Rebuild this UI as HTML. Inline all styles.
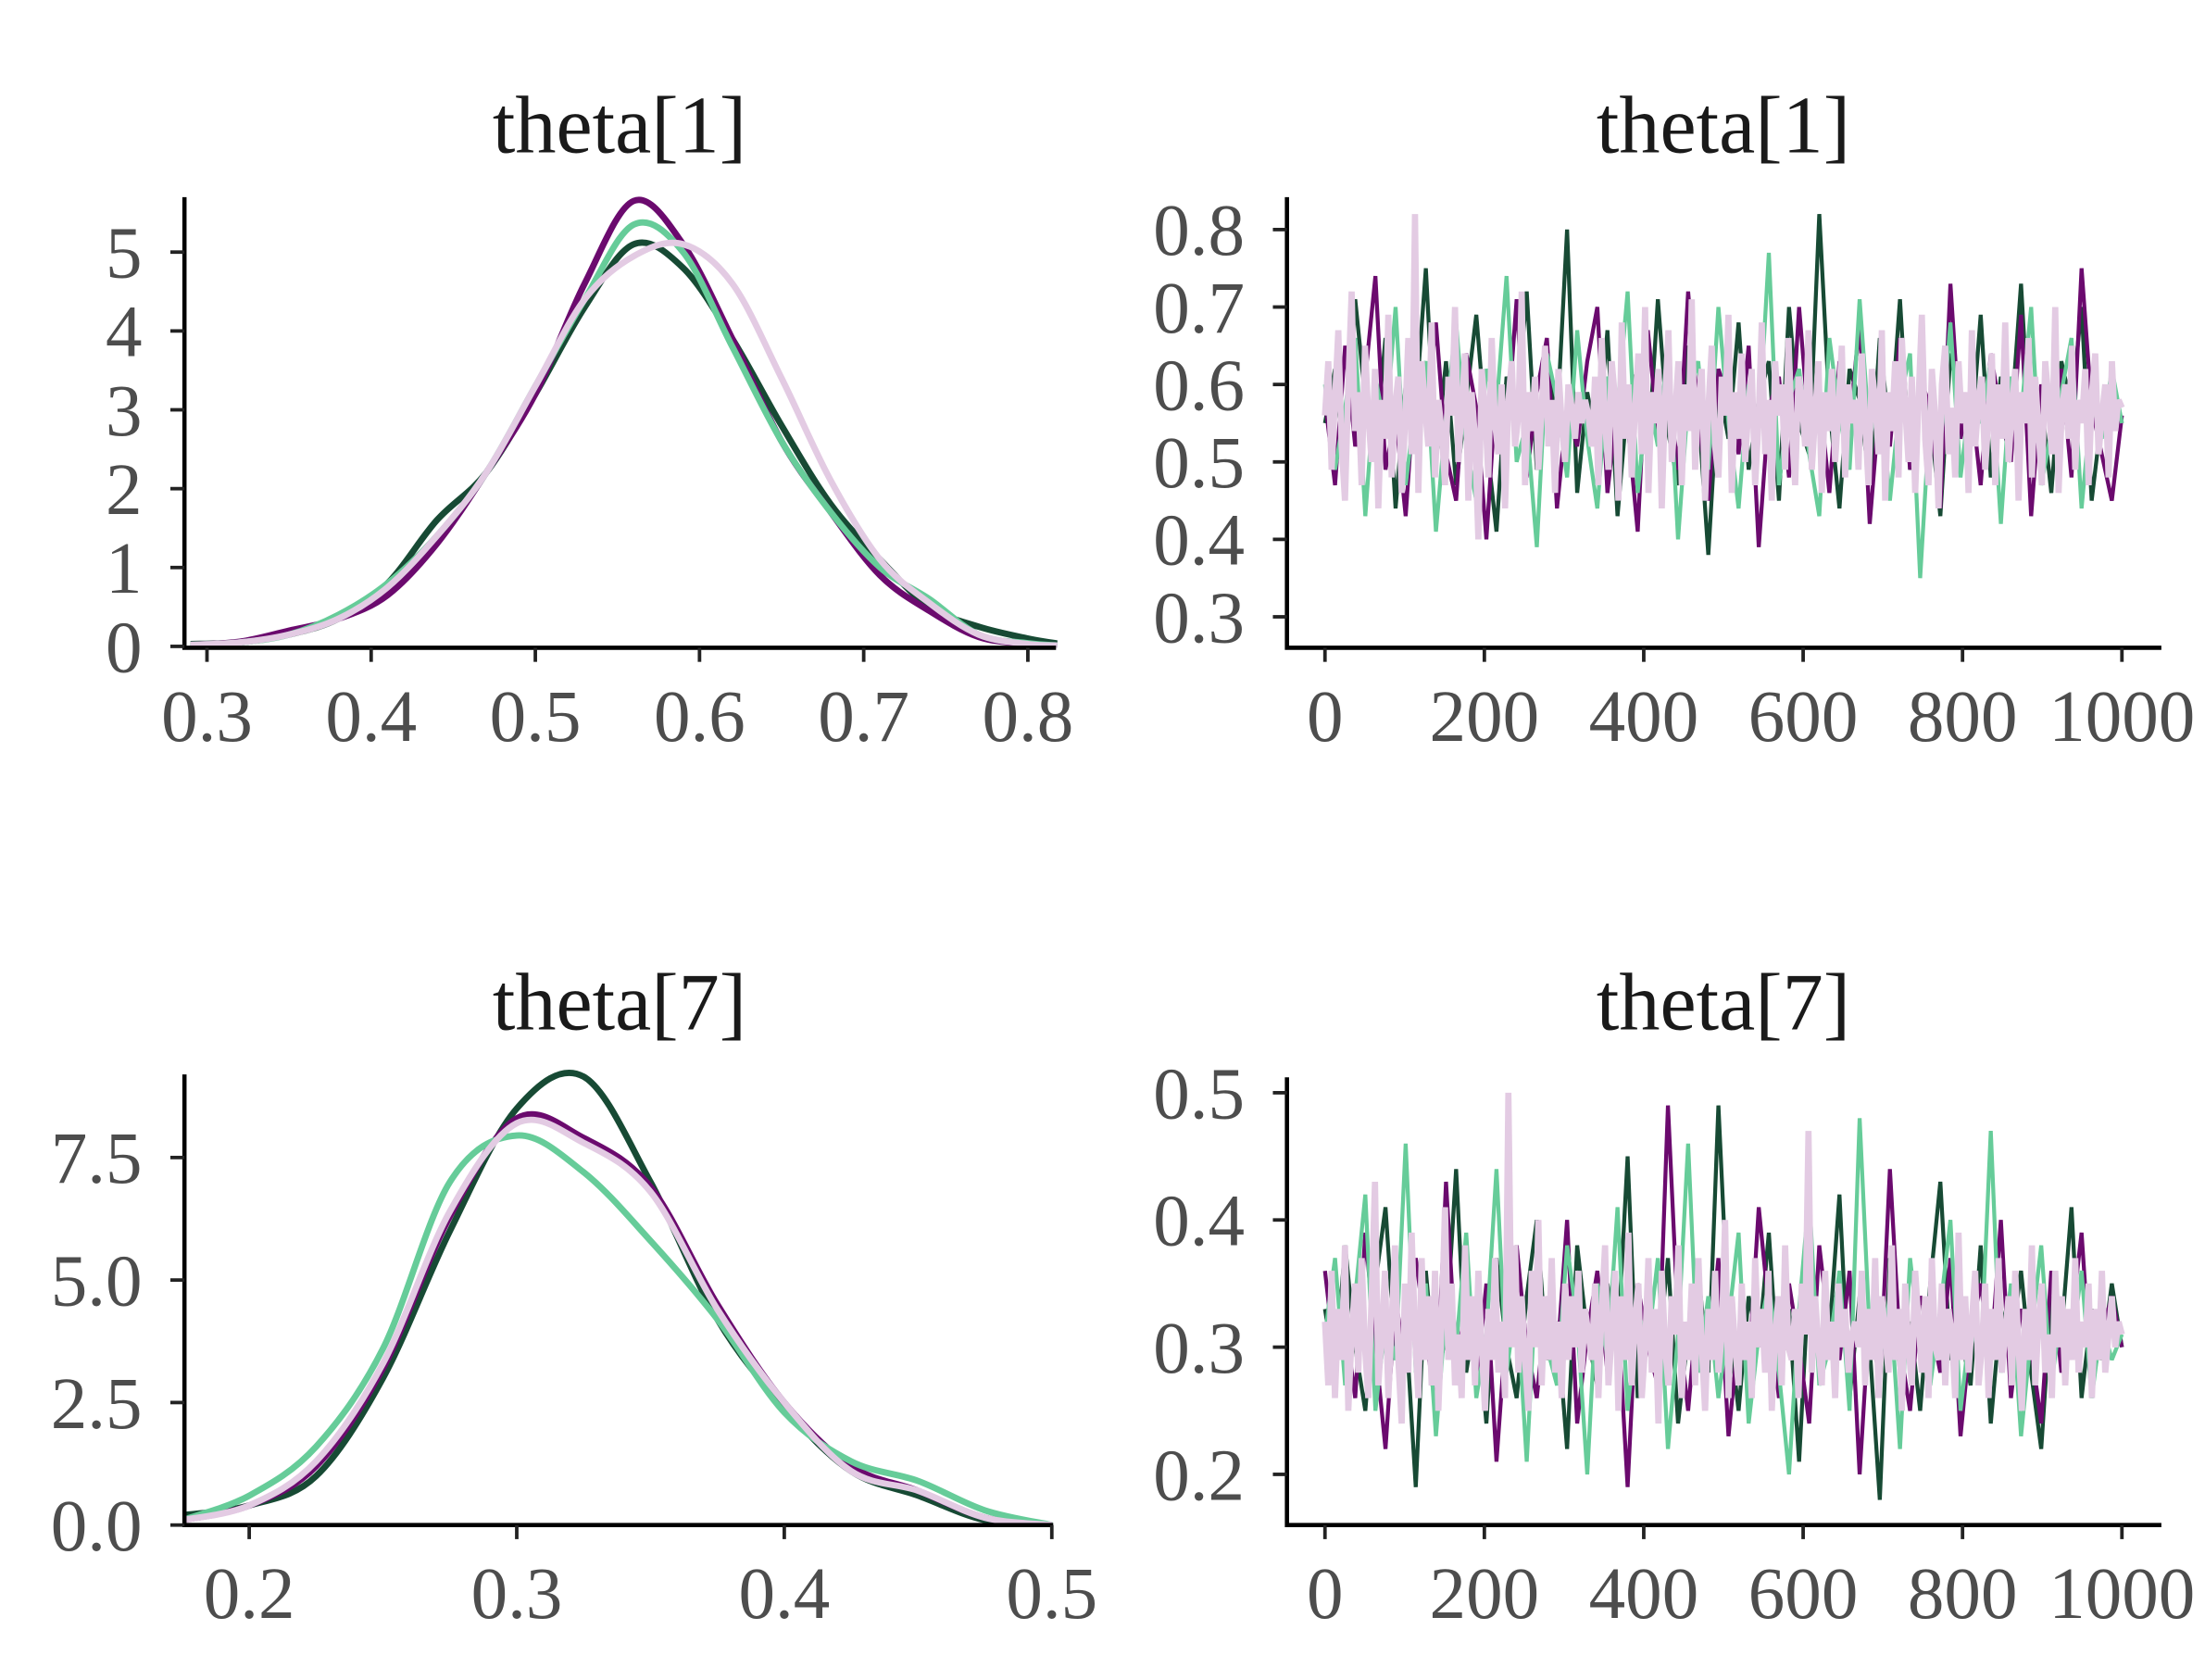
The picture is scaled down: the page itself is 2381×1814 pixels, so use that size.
<!DOCTYPE html>
<html><head><meta charset="utf-8"><style>
html,body{margin:0;padding:0;background:#fff;}
svg{display:block;}
text{font-family:"Liberation Serif","DejaVu Serif",serif;}
</style></head><body>
<svg id="chart" width="2381" height="1814" viewBox="0 0 1566 1193" xmlns="http://www.w3.org/2000/svg"></svg>
<script>
const chainColors = ["#174a34","#6b0a6e","#66cc99","#e3cbe3"];
const chainNames = ["chain-1","chain-2","chain-3","chain-4"];
// theta[1] density
const d1x = [0.29,0.32,0.35,0.38,0.41,0.44,0.47,0.50,0.53,0.56,0.59,0.62,0.65,0.68,0.71,0.74,0.77,0.80,0.82];
const d1c1 = [0.03,0.05,0.15,0.35,0.8,1.6,2.2,3.2,4.3,5.1,4.8,3.9,2.8,1.8,1.1,0.5,0.25,0.1,0.03];
const d1c2 = [0.02,0.06,0.2,0.35,0.65,1.3,2.2,3.2,4.6,5.65,5.1,3.9,2.6,1.7,0.9,0.45,0.12,0.03,0.01];
const d1c3 = [0.02,0.05,0.15,0.4,0.8,1.4,2.2,3.3,4.4,5.35,5.0,3.8,2.6,1.7,1.0,0.6,0.15,0.04,0.01];
const d1c4 = [0.02,0.05,0.15,0.35,0.75,1.4,2.2,3.3,4.4,4.95,5.1,4.6,3.4,2.1,1.1,0.55,0.15,0.03,0.01];
const d1xt = [0.3,0.4,0.5,0.6,0.7,0.8];
const d1yt = [0,1,2,3,4,5];
// theta[7] density
const d7x = [0.175,0.2,0.225,0.25,0.275,0.3,0.325,0.35,0.375,0.4,0.425,0.45,0.475,0.5];
const d7c1 = [0.2,0.4,1.0,3.0,6.0,8.5,9.15,7.0,4.2,2.4,1.1,0.6,0.1,0.0];
const d7c2 = [0.1,0.4,1.2,3.2,6.3,8.3,7.9,6.9,4.5,2.5,1.2,0.7,0.15,0.0];
const d7c3 = [0.1,0.6,1.6,3.6,7.0,7.95,7.2,5.8,4.2,2.3,1.3,0.9,0.3,0.0];
const d7c4 = [0.1,0.4,1.3,3.3,6.4,8.2,7.8,6.8,4.4,2.5,1.1,0.7,0.15,0.0];
const d7xt = ["0.2","0.3","0.4","0.5"];
const d7yt = ["0.0","2.5","5.0","7.5"];
// traces (hundredths)
const t1c1 = [55,62,48,71,58,52,66,44,60,57,75,50,63,47,58,69,53,41,61,56,72,49,64,55,80,46,59,52,67,43,58,62,50,71,54,47,65,57,38,60,53,68,49,58,63,45,70,55,51,82,57,44,62,58,47,66,53,71,49,60,56,43,64,57,52,69,48,61,55,73,50,58,46,63,57,70,45,56,60,55];
const t1c2 = [58,47,65,52,61,74,49,56,43,62,55,68,51,45,64,57,40,60,53,71,48,59,66,44,57,52,63,70,46,58,55,41,67,54,60,49,72,56,45,62,58,51,65,39,57,61,48,70,54,59,46,63,55,68,42,58,52,66,49,61,57,44,73,53,59,47,64,56,50,69,43,60,55,62,48,75,57,51,45,56];
const t1c3 = [60,49,57,66,43,61,54,70,47,58,63,41,56,68,52,45,62,57,74,50,55,39,64,58,48,67,53,44,61,57,72,46,59,52,65,40,58,63,49,70,55,44,60,54,77,47,58,62,51,43,66,56,49,71,53,60,45,58,64,35,57,52,68,48,59,55,63,42,61,56,70,47,54,59,66,44,58,53,62,55];
const t1c4 = [56,63,49,58,67,52,45,60,72,54,59,47,65,56,50,62,44,58,53,69,48,57,61,46,55,66,51,82,46,63,57,52,68,48,58,54,47,61,56,70,50,57,64,45,59,53,40,62,57,48,66,55,51,60,44,58,63,52,56,72,47,59,54,61,49,57,65,52,58,46,62,55,50,60,57,53,59,55,58,56,
 52,61,47,66,55,49,63,58,45,68,53,60,48,57,64,51,70,46,59,55,62,44,58,67,50,56,63,47,60,54,71,49,58,62,45,57,65,52,48,61,56,69,46,59,53,64,50,57,62,47,55,68,51,58,45,63,56,60,49,66,54,47,61,58,52,67,49,56,63,46,59,54,62,50,57,65,48,60,55,58,
 49,64,55,47,62,58,51,67,45,59,54,63,48,66,57,50,61,46,58,69,53,47,62,56,44,60,65,51,57,48,63,55,59,46,67,52,58,61,49,56,64,47,60,53,68,50,57,62,45,59,55,66,48,61,54,47,63,58,51,70,46,57,60,53,65,49,58,55,62,47,59,64,51,56,60,48,63,54,58,57];
const t7c1 = [33,28,38,30,25,35,41,29,32,19,36,27,31,44,28,33,24,37,30,26,34,40,29,32,22,38,31,27,35,30,45,26,33,29,37,24,31,36,28,49,32,25,34,30,39,27,33,21,36,29,31,42,26,34,30,18,37,28,32,25,35,43,29,31,27,38,24,33,30,36,28,22,34,31,41,26,33,29,35,30];
const t7c2 = [36,29,32,26,39,30,22,34,28,37,31,25,43,29,33,27,35,21,32,38,30,26,34,29,40,24,31,36,28,33,19,35,30,27,49,32,25,34,29,37,23,31,28,41,33,26,35,30,24,38,31,29,36,20,33,27,44,30,25,34,32,28,37,23,31,35,29,40,26,33,30,24,36,28,32,39,27,31,34,30];
const t7c3 = [31,37,27,34,42,25,32,29,46,28,35,23,33,30,39,26,31,44,28,34,21,36,30,27,38,32,20,35,29,41,25,33,30,37,22,31,46,28,34,26,32,39,24,31,35,28,20,33,42,27,30,36,25,48,31,29,34,22,37,30,27,33,40,25,32,29,47,28,35,23,31,38,27,33,30,36,26,32,29,31];
const t7c4 = [32,27,36,26,33,29,38,25,31,35,28,37,30,26,34,43,27,31,36,26,32,38,29,24,35,28,39,31,26,37,29,34,27,36,25,32,41,29,35,27,31,26,38,29,34,27,36,30,25,33,29,37,28,32,26,50,30,38,28,34,29,25,36,30,40,27,34,29,37,28,32,26,35,29,34,30,36,28,33,31,
 29,35,26,33,38,27,31,36,25,34,29,39,27,32,35,26,30,37,28,33,24,36,30,27,34,31,38,26,32,29,35,27,37,30,25,33,29,36,28,31,40,26,34,30,27,35,29,32,26,37,30,33,28,36,25,31,34,27,38,30,29,33,26,35,31,47,28,34,30,27,36,29,32,26,35,30,33,28,31,32,
 30,36,27,33,29,37,26,34,31,28,38,29,33,25,35,30,27,36,32,28,34,26,37,30,29,35,27,33,31,26,39,29,34,28,32,36,27,30,35,26,33,29,37,28,31,34,27,36,30,25,33,29,38,27,32,35,28,31,26,36,30,34,27,33,29,37,28,32,30,35,26,33,29,36,28,31,34,30,32,31];
const iterTicks = [0,200,400,600,800,1000];
const t1yt = ["0.3","0.4","0.5","0.6","0.7","0.8"];
const t7yt = ["0.2","0.3","0.4","0.5"];

const NS="http://www.w3.org/2000/svg";
const svg=document.getElementById('chart');
function mk(tag,attrs,parent){const e=document.createElementNS(NS,tag);for(const k in attrs)e.setAttribute(k,attrs[k]);(parent||svg).appendChild(e);return e;}
function lin(d0,d1,r0,r1){return v=>r0+(v-d0)*(r1-r0)/(d1-d0);}
function smooth(pts){let d="M"+pts[0][0]+","+pts[0][1];for(let i=0;i<pts.length-1;i++){const p0=pts[Math.max(0,i-1)],p1=pts[i],p2=pts[i+1],p3=pts[Math.min(pts.length-1,i+2)];const c1x=p1[0]+(p2[0]-p0[0])/6,c1y=p1[1]+(p2[1]-p0[1])/6,c2x=p2[0]-(p3[0]-p1[0])/6,c2y=p2[1]-(p3[1]-p1[1])/6;d+=" C"+c1x+","+c1y+" "+c2x+","+c2y+" "+p2[0]+","+p2[1];}return d;}

function axes(g,x0,x1,y0,y1,xt,xs,yt,ys,title,tx,ty){
  const ax=mk('path',{d:`M${x0},${y0} V${y1} H${x1}`,fill:'none',stroke:'#000','stroke-width':3},g);
  
  
  xt.forEach(t=>{const x=xs(+t);
    const tk=mk('line',{x1:x,x2:x,y1:y1,y2:y1+10,stroke:'#222','stroke-width':2.5},g);
    
    
    const tl=mk('text',{x:x,y:y1+66,'text-anchor':'middle','font-size':52,fill:'#4d4d4d'},g);tl.textContent=t;
    
    });
  yt.forEach(t=>{const y=ys(+t);
    const tk=mk('line',{x1:x0-10,x2:x0,y1:y,y2:y,stroke:'#222','stroke-width':2.5},g);
    
    
    const tl=mk('text',{x:x0-30,y:y+18,'text-anchor':'end','font-size':52,fill:'#4d4d4d'},g);tl.textContent=t;
    
    });
  const ti=mk('text',{x:tx,y:ty,'text-anchor':'middle','font-size':58,fill:'#1a1a1a'},g);ti.textContent=title;
  
  
}
function densPanel(name,xs,ys,xg,series,clip){
  const g=mk('g',{});
  
  
  series.forEach((s,i)=>{const p=mk('path',{d:smooth(xg.map((x,j)=>[xs(x),ys(s[j])])),fill:'none',stroke:chainColors[i],'stroke-width':4.5,'clip-path':clip},g);
    
    });
  return g;
}
function tracePanel(name,xs,ys,series){
  const g=mk('g',{});
  
  
  series.forEach((s,i)=>{const n=s.length;const pts=s.map((v,j)=>xs(j*1000/(n-1)).toFixed(2)+","+ys(v/100).toFixed(2)).join(" ");
    const p=mk('polyline',{points:pts,fill:'none',stroke:chainColors[i],'stroke-width':i===3?4.4:2.8,'stroke-linejoin':'bevel'},g);
    
    });
  return g;
}
const defs=mk('defs',{});
const c1=mk('clipPath',{id:'cp1'},defs);mk('rect',{x:131,y:100,width:620,height:360},c1);
const c3=mk('clipPath',{id:'cp3'},defs);mk('rect',{x:131,y:740,width:617,height:343},c3);

// panel 1
const p1x=lin(0.3,0.8,147,730), p1y=lin(0,5,459,179);
densPanel('density-theta-1',p1x,p1y,d1x,[d1c1,d1c2,d1c3,d1c4],'url(#cp1)');
axes(svg,131,750,140,460,d1xt.map(String),p1x,d1yt.map(String),p1y,'theta[1]',440,108);
// panel 2
const p2x=lin(0,1000,941,1507), p2y=lin(0.3,0.8,438,163);
tracePanel('trace-theta-1',p2x,p2y,[t1c1,t1c2,t1c3,t1c4]);
axes(svg,914,1535,140,460,iterTicks.map(String),p2x,t1yt,p2y,'theta[1]',1224,108);
// panel 3
const p3x=lin(0.2,0.5,177,747), p3y=lin(0,7.5,1083,822);
densPanel('density-theta-7',p3x,p3y,d7x,[d7c1,d7c2,d7c3,d7c4],'url(#cp3)');
axes(svg,131,748,763,1083,d7xt,p3x,d7yt,p3y,'theta[7]',440,731);
// panel 4
const p4x=lin(0,1000,941,1507), p4y=lin(0.2,0.5,1047,776);
tracePanel('trace-theta-7',p4x,p4y,[t7c1,t7c2,t7c3,t7c4]);
axes(svg,914,1535,765,1083,iterTicks.map(String),p4x,t7yt,p4y,'theta[7]',1224,731);
</script>
</body></html>
